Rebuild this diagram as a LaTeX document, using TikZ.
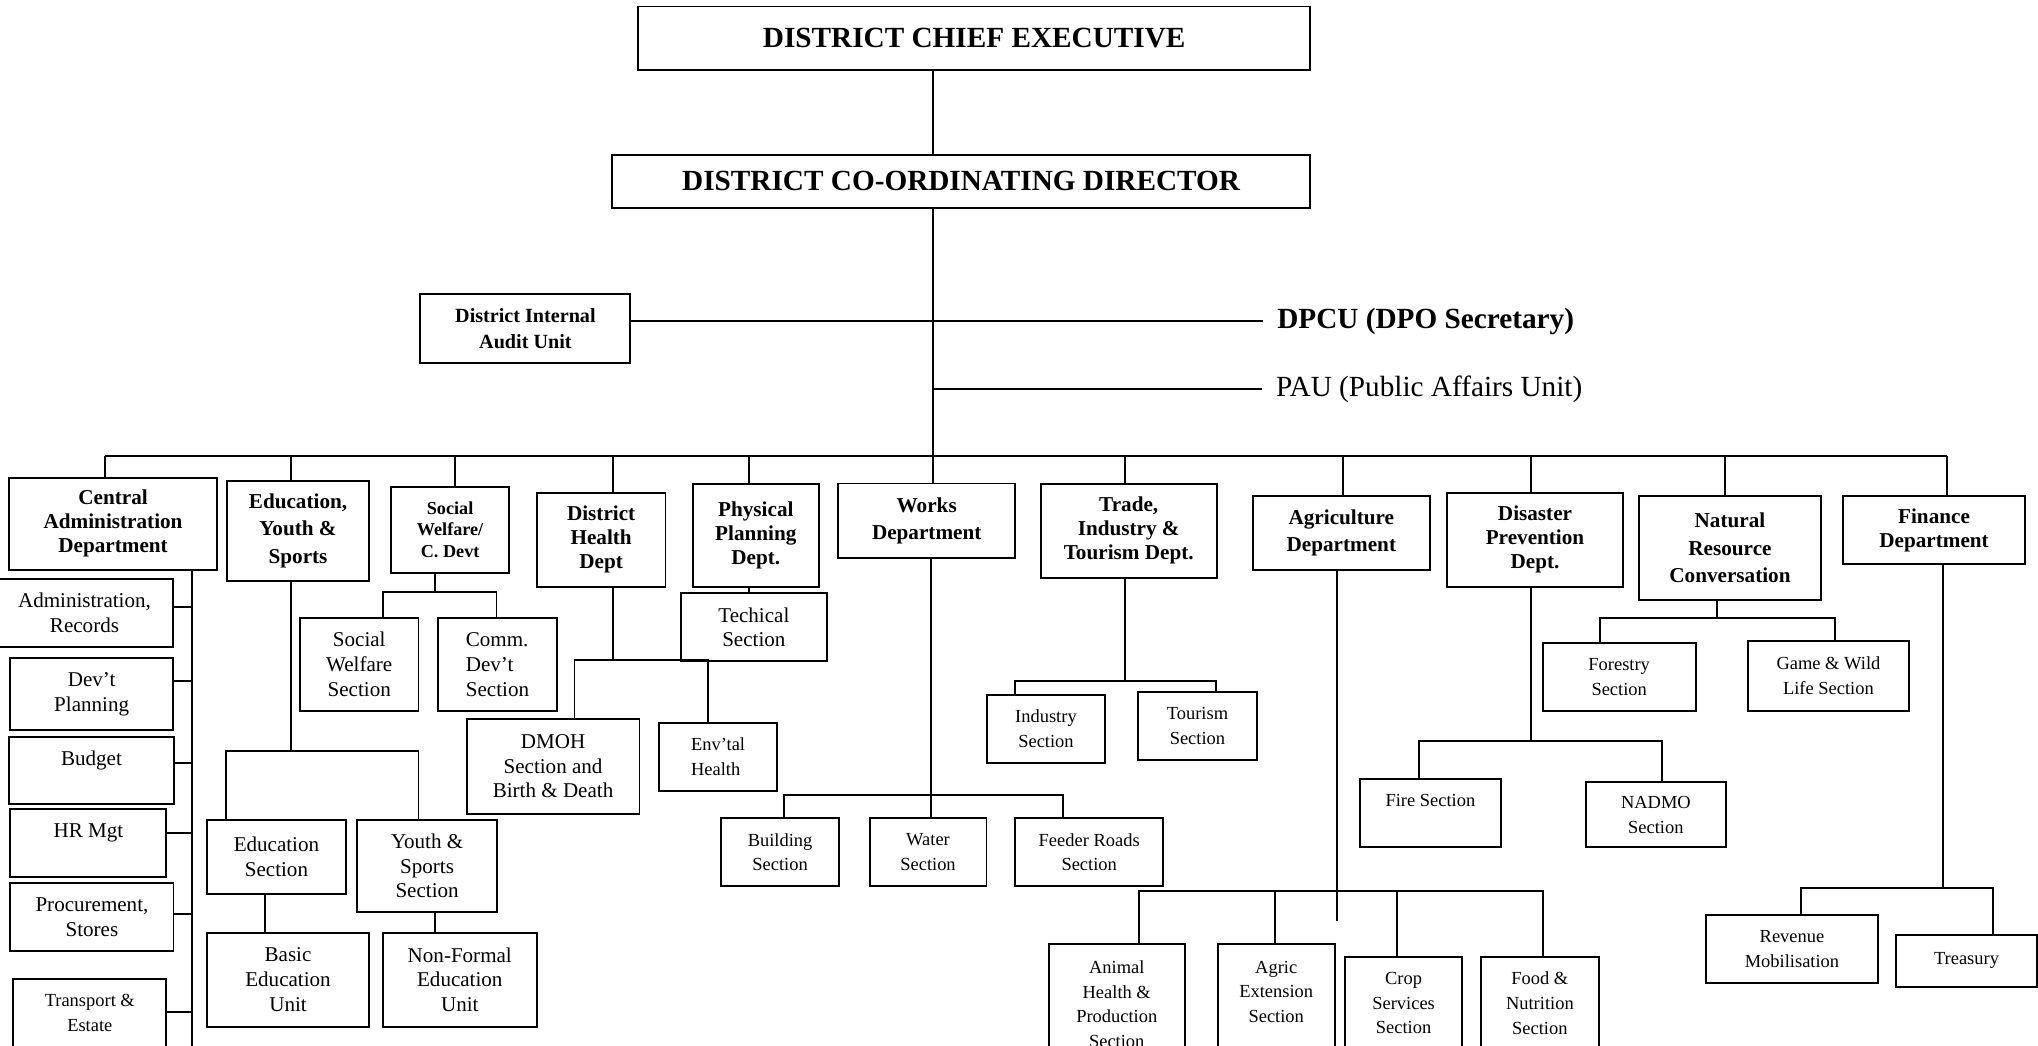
\documentclass[tikz,border=0pt]{standalone}
\usepackage{fontspec}
\setmainfont{Liberation Serif}

\newcommand{\topfont}{\bfseries\fontsize{22.5}{27}\selectfont}
\newcommand{\paufont}{\fontsize{22.5}{27}\selectfont}
\newcommand{\auditfont}{\bfseries\fontsize{15.5}{20}\selectfont}
\newcommand{\deptfont}{\bfseries\fontsize{16.3}{18.5}\selectfont}
\newcommand{\deptwidefont}{\bfseries\fontsize{16.3}{21}\selectfont}
\newcommand{\swfont}{\bfseries\fontsize{14}{16.5}\selectfont}
\newcommand{\secfont}{\fontsize{16.2}{19}\selectfont}
\newcommand{\smsecfont}{\fontsize{14.2}{19}\selectfont}

\begin{document}
\begin{tikzpicture}
            [x=1pt, y=-1pt, line width=1.5pt,
             orgbox/.style={shape=rectangle, draw=black, inner sep=0pt, align=center},
             topbox/.style={orgbox, font=\topfont},
             deptbox/.style={orgbox, font=\deptfont},
             secbox/.style={orgbox, font=\secfont},
             smallbox/.style={orgbox, font=\smsecfont}]
            \useasboundingbox (0, 0) rectangle (1568, 804);
            \clip (0, 0) rectangle (1568, 804);

            \node[topbox, minimum width=517pt, minimum height=49pt] (dce) at (749.5, 29.5) {DISTRICT CHIEF EXECUTIVE};
            \node[topbox, minimum width=537pt, minimum height=41pt] (dcd) at (739.5, 139.5) {DISTRICT CO-ORDINATING DIRECTOR};
            \node[orgbox, font=\auditfont, minimum width=161.5pt, minimum height=53pt] (audit) at (404.25, 252.5) {District Internal\\Audit Unit};
            \node[font=\topfont, anchor=west, inner xsep=10pt] (dpcu) at (972, 247) {DPCU (DPO Secretary)};
            \node[font=\paufont, anchor=west, inner xsep=10pt] (pau) at (971, 299.5) {PAU (Public Affairs Unit)};

            \node[deptbox, minimum width=160pt, minimum height=71pt] (cad) at (87, 403) {Central\\Administration\\Department};
            \node[deptbox, font=\deptwidefont, minimum width=109.4pt, minimum height=77pt] (eys) at (229.3, 408.3) {Education,\\Youth \&\\Sports};
            \node[orgbox, font=\swfont, minimum width=91pt, minimum height=66pt] (swcd) at (346.3, 407.5) {Social\\Welfare/\\C. Devt};
            \node[deptbox, minimum width=99pt, minimum height=72.4pt] (dhd) at (462.5, 415.2) {District\\Health\\Dept};
            \node[deptbox, minimum width=97pt, minimum height=79pt] (ppd) at (581.5, 411.9) {Physical\\Planning\\Dept.};
            \node[deptbox, font=\deptwidefont, minimum width=136pt, minimum height=57pt] (works) at (713, 400.5) {Works\\Department};
            \node[deptbox, minimum width=135.3pt, minimum height=72.5pt] (trade) at (868.4, 408.3) {Trade,\\Industry \&\\Tourism Dept.};
            \node[deptbox, font=\deptwidefont, minimum width=136pt, minimum height=57pt] (agric) at (1032, 410.1) {Agriculture\\Department};
            \node[deptbox, minimum width=136pt, minimum height=72.6pt] (dpd) at (1181, 415.3) {Disaster\\Prevention\\Dept.};
            \node[deptbox, font=\deptwidefont, minimum width=140pt, minimum height=80pt] (nrc) at (1331, 421.6) {Natural\\Resource\\Conversation};
            \node[deptbox, minimum width=140pt, minimum height=52.4pt] (fin) at (1488, 407.8) {Finance\\Department};

            \node[secbox, minimum width=136pt, minimum height=52pt] (adm) at (65, 471.5) {Administration,\\Records};
            \node[secbox, minimum width=125pt, minimum height=55.7pt] (dp) at (70.5, 533.9) {Dev’t\\Planning};
            \node[secbox, minimum width=126.8pt, minimum height=51.6pt, text depth=19pt] (bud) at (70.4, 592.8) {Budget};
            \node[secbox, minimum width=120pt, minimum height=52pt, text depth=18.5pt] (hr) at (68, 648.5) {HR Mgt};
            \node[secbox, minimum width=125.5pt, minimum height=52.2pt] (proc) at (70.75, 705.7) {Procurement,\\Stores};
            \node[smallbox, minimum width=117.8pt, minimum height=77pt, text depth=24pt] (trans) at (69.1, 791.5) {Transport \&\\Estate};

            \node[secbox, minimum width=106.6pt, minimum height=56.8pt] (eds) at (212.7, 659.4) {Education\\Section};
            \node[secbox, minimum width=107.8pt, minimum height=70.5pt] (yss) at (328.6, 666.25) {Youth \&\\Sports\\Section};
            \node[secbox, minimum width=124.4pt, minimum height=72.3pt] (beu) at (221.6, 753.65) {Basic\\Education\\Unit};
            \node[secbox, minimum width=118.5pt, minimum height=72.3pt] (nfeu) at (353.75, 753.65) {Non-Formal\\Education\\Unit};

            \node[secbox, minimum width=91.2pt, minimum height=71.2pt] (sws) at (276.4, 511.2) {Social\\Welfare\\Section};
            \node[secbox, align=left, minimum width=91.5pt, minimum height=71.2pt] (cds) at (382.75, 511.2) {Comm.\\Dev’t\\Section};

            \node[secbox, minimum width=133pt, minimum height=73pt] (dmoh) at (425.5, 589.5) {DMOH\\Section and\\Birth \& Death};
            \node[smallbox, align=left, minimum width=91pt, minimum height=52.6pt] (env) at (552.5, 582.3) {Env’tal\\Health};
            \node[secbox, minimum width=112pt, minimum height=52.1pt] (tech) at (580, 482.55) {Techical\\Section};

            \node[smallbox, minimum width=90.4pt, minimum height=52.5pt] (bld) at (600.2, 655.75) {Building\\Section};
            \node[smallbox, minimum width=90pt, minimum height=52.5pt] (wat) at (714, 655.75) {Water\\Section};
            \node[smallbox, minimum width=114pt, minimum height=52.5pt] (frs) at (838, 655.75) {Feeder Roads\\Section};

            \node[smallbox, minimum width=90.5pt, minimum height=52.1pt] (ind) at (804.75, 560.75) {Industry\\Section};
            \node[smallbox, minimum width=91.4pt, minimum height=52.5pt] (tou) at (921.3, 558.55) {Tourism\\Section};

            \node[smallbox, minimum width=104.8pt, minimum height=103.4pt, text depth=11.6pt] (ahp) at (859.2, 778.3) {Animal\\Health \&\\Production\\Section};
            \node[smallbox, minimum width=90.2pt, minimum height=103.4pt, text depth=30.6pt] (aes) at (981.9, 778.3) {Agric\\Extension\\Section};
            \node[smallbox, minimum width=90.2pt, minimum height=94pt, text depth=22.6pt] (csv) at (1079.9, 783) {Crop\\Services\\Section};
            \node[smallbox, minimum width=90.5pt, minimum height=94pt, text depth=22.6pt] (fns) at (1184.75, 783) {Food \&\\Nutrition\\Section};

            \node[smallbox, minimum width=109pt, minimum height=51.8pt, text depth=19pt] (fire) at (1100.5, 625.5) {Fire Section};
            \node[smallbox, minimum width=108pt, minimum height=49.6pt] (nadmo) at (1274, 626.8) {NADMO\\Section};

            \node[smallbox, minimum width=117.5pt, minimum height=52.3pt] (fors) at (1245.75, 520.65) {Forestry\\Section};
            \node[smallbox, minimum width=123.5pt, minimum height=53.8pt] (gwl) at (1406.75, 519.9) {Game \& Wild\\Life Section};

            \node[smallbox, minimum width=132.6pt, minimum height=52.6pt] (rev) at (1378.7, 730.3) {Revenue\\Mobilisation};
            \node[smallbox, minimum width=108pt, minimum height=40pt] (trs) at (1513, 739) {Treasury};

            \coordinate (trunk) at (718, 351);
            \coordinate (tcad) at (81, 351);
            \coordinate (teys) at (224, 351);
            \coordinate (tswcd) at (350, 351);
            \coordinate (tdhd) at (471.4, 351);
            \coordinate (tppd) at (576.3, 351);
            \coordinate (ttrade) at (865.5, 351);
            \coordinate (tagric) at (1033, 351);
            \coordinate (tdpd) at (1178, 351);
            \coordinate (tnrc) at (1327, 351);
            \coordinate (tfin) at (1498, 351);

            \path (dce.south -| trunk) edge (dcd.north -| trunk);
            \path (dcd.south -| trunk) edge (trunk);
            \path (audit.east |- dpcu.west) edge (dpcu.west);
            \path (pau.west -| trunk) edge (pau.west);

            \path (tcad) edge (tfin);
            \path (tcad) edge (tcad |- cad.north);
            \path (teys) edge (teys |- eys.north);
            \path (tswcd) edge (tswcd |- swcd.north);
            \path (tdhd) edge (tdhd |- dhd.north);
            \path (tppd) edge (tppd |- ppd.north);
            \path (trunk) edge (trunk |- works.north);
            \path (ttrade) edge (ttrade |- trade.north);
            \path (tagric) edge (tagric |- agric.north);
            \path (tdpd) edge (tdpd |- dpd.north);
            \path (tnrc) edge (tnrc |- nrc.north);
            \path (tfin) edge (tfin |- fin.north);

            \coordinate (cadv) at (148, 810);
            \path (cadv |- cad.south) edge (cadv);
            \path (adm.4) edge (adm.4 -| cadv);
            \path (dp.9) edge (dp.9 -| cadv);
            \path (bud.5) edge (bud.5 -| cadv);
            \path (hr.7) edge (hr.7 -| cadv);
            \path (proc.2) edge (proc.2 -| cadv);
            \path (trans.12) edge (trans.12 -| cadv);

            \coordinate (eysb) at (224, 577.8);
            \coordinate (eysl) at (173.7, 577.8);
            \coordinate (eysr) at (322, 577.8);
            \coordinate (edsv) at (204, 700);
            \coordinate (yssv) at (334.7, 700);
            \path (eysb |- eys.south) edge (eysb);
            \draw (eysl |- eds.north) -- (eysl) -- (eysr) -- (eysr |- yss.north);
            \path (edsv |- eds.south) edge (edsv |- beu.north);
            \path (yssv |- yss.south) edge (yssv |- nfeu.north);

            \coordinate (swb) at (334.4, 455.6);
            \coordinate (swl) at (294.9, 455.6);
            \coordinate (swr) at (382, 455.6);
            \path (swb |- swcd.south) edge (swb);
            \draw (swl |- sws.north) -- (swl) -- (swr) -- (swr |- cds.north);

            \coordinate (dhb) at (471.4, 508);
            \coordinate (dhl) at (442, 508);
            \coordinate (dhr) at (545, 508);
            \path (dhb |- dhd.south) edge (dhb);
            \draw (dhl |- dmoh.north) -- (dhl) -- (dhr) -- (dhr |- env.north);

            \coordinate (ppv) at (576.3, 454);
            \path (ppv |- ppd.south) edge (ppv |- tech.north);

            \coordinate (wkb) at (716.3, 611.7);
            \coordinate (wkl) at (603, 611.7);
            \coordinate (wkr) at (817.8, 611.7);
            \path (wkb |- works.south) edge (wkb |- wat.north);
            \draw (wkl |- bld.north) -- (wkl) -- (wkr) -- (wkr |- frs.north);

            \coordinate (trb) at (865.3, 523.7);
            \coordinate (trl) at (781, 523.7);
            \coordinate (trr) at (935.6, 523.7);
            \path (trb |- trade.south) edge (trb);
            \draw (trl |- ind.north) -- (trl) -- (trr) -- (trr |- tou.north);

            \coordinate (agb) at (1028.7, 708.6);
            \coordinate (agl) at (876, 685.6);
            \coordinate (agr) at (1187, 685.6);
            \coordinate (agm) at (981, 685.6);
            \coordinate (agn) at (1074.7, 685.6);
            \path (agb |- agric.south) edge (agb);
            \draw (agl |- ahp.north) -- (agl) -- (agr) -- (agr |- fns.north);
            \path (agm) edge (agm |- aes.north);
            \path (agn) edge (agn |- csv.north);

            \coordinate (dpb) at (1178, 570);
            \coordinate (dpl) at (1092, 570);
            \coordinate (dpr) at (1278.5, 570);
            \path (dpb |- dpd.south) edge (dpb);
            \draw (dpl |- fire.north) -- (dpl) -- (dpr) -- (dpr |- nadmo.north);

            \coordinate (nrb) at (1321, 475.6);
            \coordinate (nrl) at (1231, 475.6);
            \coordinate (nrr) at (1411.6, 475.6);
            \path (nrb |- nrc.south) edge (nrb);
            \draw (nrl |- fors.north) -- (nrl) -- (nrr) -- (nrr |- gwl.north);

            \coordinate (fnb) at (1495, 683);
            \coordinate (fnl) at (1385.8, 683);
            \coordinate (fnr) at (1533, 683);
            \path (fnb |- fin.south) edge (fnb);
            \draw (fnl |- rev.north) -- (fnl) -- (fnr) -- (fnr |- trs.north);
        \end{tikzpicture}
\end{document}
